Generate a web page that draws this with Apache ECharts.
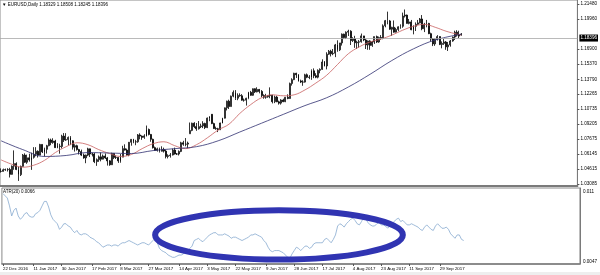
<!DOCTYPE html>
<html><head><meta charset="utf-8">
<script src="https://cdn.jsdelivr.net/npm/echarts@6/dist/echarts.min.js"></script>
<style>html,body{margin:0;padding:0;background:#fff}#c{width:600px;height:275px}</style>
</head><body><div id="c"></div>
<script>
const symbolName = 'EURUSD,Daily';
const indicatorName = 'ATR(20)';
const startDate = '2016-12-22';
const slotCount = 266;
const xLabels = ['22 Dec 2016','11 Jan 2017','30 Jan 2017','17 Feb 2017','8 Mar 2017','27 Mar 2017','14 Apr 2017','3 May 2017','22 May 2017','9 Jun 2017','28 Jun 2017','17 Jul 2017','4 Aug 2017','23 Aug 2017','11 Sep 2017','29 Sep 2017'];
const priceTicks = [1.03085,1.04615,1.06145,1.07675,1.09205,1.10735,1.12265,1.13790,1.15370,1.16900,1.19960,1.21480];
const atrTicks = [0.0047,0.011];
const atrTickLabels = ['0.0047','0.011'];

const opens = [1.0437,1.0437,1.0454,1.0456,1.0456,1.0407,1.0491,1.0517,1.0457,1.0404,
1.0488,1.0604,1.0531,1.0576,1.0555,1.0581,1.0612,1.0643,1.0603,1.0713,
1.0637,1.0663,1.0700,1.0758,1.0732,1.0748,1.0680,1.0695,1.0692,1.0798,
1.0758,1.0762,1.0785,1.0750,1.0685,1.0700,1.0660,1.0640,1.0604,1.0575,
1.0604,1.0668,1.0615,1.0615,1.0537,1.0557,1.0586,1.0562,1.0595,1.0575,
1.0545,1.0505,1.0620,1.0580,1.0580,1.0545,1.0583,1.0670,1.0655,1.0605,
1.0735,1.0765,1.0740,1.0740,1.0810,1.0798,1.0785,1.0800,1.0866,1.0815,
1.0765,1.0680,1.0652,1.0668,1.0643,1.0662,1.0645,1.0590,1.0598,1.0605,
1.0655,1.0615,1.0615,1.0641,1.0730,1.0715,1.0716,1.0822,1.0856,1.0930,
1.0895,1.0873,1.0895,1.0902,1.0927,1.0885,1.0982,1.1021,1.0926,1.0875,
1.0873,1.0863,1.0932,1.0981,1.1087,1.1155,1.1100,1.1206,1.1245,1.1185,
1.1214,1.1210,1.1165,1.1165,1.1185,1.1245,1.1215,1.1282,1.1250,1.1275,
1.1255,1.1212,1.1196,1.1200,1.1212,1.1216,1.1150,1.1197,1.1148,1.1135,
1.1167,1.1150,1.1195,1.1182,1.1335,1.1375,1.1440,1.1425,1.1362,1.1350,
1.1350,1.1425,1.1400,1.1398,1.1465,1.1415,1.1400,1.1470,1.1480,1.1555,
1.1515,1.1635,1.1665,1.1640,1.1645,1.1730,1.1680,1.1750,1.1840,1.1805,
1.1860,1.1870,1.1775,1.1792,1.1752,1.1758,1.1762,1.1822,1.1780,1.1730,
1.1770,1.1725,1.1760,1.1815,1.1760,1.1805,1.1798,1.1925,1.1978,1.1975,
1.1890,1.1910,1.1860,1.1888,1.1915,1.1920,1.2025,1.2035,1.1950,1.1965,
1.1885,1.1920,1.1940,1.1955,1.1995,1.1895,1.1940,1.1950,1.1845,1.1790,
1.1740,1.1785,1.1815,1.1735,1.1745,1.1760,1.1710,1.1730,1.1770,1.1810,
1.1860,1.1830,1.18329];
const highs = [1.0468,1.0466,1.0466,1.0470,1.0474,1.0498,1.0652,1.0530,1.0485,1.0497,
1.0615,1.0622,1.0609,1.0618,1.0629,1.0685,1.0685,1.0652,1.0719,1.0714,
1.0680,1.0709,1.0775,1.0772,1.0776,1.0760,1.0726,1.0720,1.0812,1.0829,
1.0828,1.0794,1.0798,1.0755,1.0715,1.0710,1.0668,1.0660,1.0620,1.0609,
1.0679,1.0670,1.0625,1.0625,1.0570,1.0600,1.0630,1.0610,1.0620,1.0585,
1.0552,1.0628,1.0620,1.0600,1.0583,1.0615,1.0699,1.0714,1.0670,1.0738,
1.0768,1.0770,1.0760,1.0819,1.0827,1.0805,1.0817,1.0906,1.0875,1.0820,
1.0772,1.0691,1.0680,1.0680,1.0694,1.0680,1.0660,1.0612,1.0625,1.0670,
1.0680,1.0625,1.0652,1.0740,1.0750,1.0778,1.0742,1.0937,1.0935,1.0940,
1.0932,1.0952,1.0925,1.0950,1.0935,1.0988,1.1000,1.1023,1.0935,1.0895,
1.0883,1.0935,1.0985,1.1090,1.1160,1.1170,1.1212,1.1265,1.1268,1.1235,
1.1235,1.1227,1.1182,1.1190,1.1250,1.1260,1.1285,1.1286,1.1297,1.1280,
1.1268,1.1225,1.1230,1.1215,1.1296,1.1220,1.1212,1.1210,1.1160,1.1175,
1.1180,1.1198,1.1225,1.1345,1.1389,1.1445,1.1445,1.1432,1.1375,1.1369,
1.1435,1.1438,1.1421,1.1480,1.1490,1.1441,1.1480,1.1490,1.1583,1.1565,
1.1655,1.1678,1.1680,1.1688,1.1740,1.1777,1.1750,1.1847,1.1845,1.1868,
1.1885,1.1880,1.1809,1.1823,1.1773,1.1780,1.1846,1.1823,1.1790,1.1775,
1.1778,1.1770,1.1815,1.1825,1.1815,1.1830,1.1940,1.1985,1.2070,1.1985,
1.1915,1.1980,1.1905,1.1920,1.1940,1.2060,1.2092,1.2040,1.1995,1.1985,
1.1930,1.1960,1.1985,1.2005,1.2035,1.1955,1.1985,1.1955,1.1855,1.1800,
1.1795,1.1830,1.1818,1.1766,1.1790,1.1770,1.1760,1.1780,1.1815,1.1875,
1.1880,1.1875,1.18508];
const lows = [1.0425,1.0436,1.0443,1.0436,1.0375,1.0404,1.0454,1.0450,1.0340,1.0390,
1.0485,1.0524,1.0515,1.0537,1.0453,1.0568,1.0592,1.0579,1.0603,1.0625,
1.0589,1.0620,1.0694,1.0705,1.0720,1.0678,1.0674,1.0618,1.0672,1.0738,
1.0750,1.0705,1.0706,1.0660,1.0640,1.0650,1.0610,1.0594,1.0567,1.0521,
1.0593,1.0584,1.0590,1.0522,1.0494,1.0535,1.0540,1.0560,1.0565,1.0497,
1.0495,1.0503,1.0563,1.0564,1.0524,1.0526,1.0582,1.0650,1.0600,1.0592,
1.0700,1.0725,1.0705,1.0730,1.0765,1.0760,1.0770,1.0794,1.0805,1.0740,
1.0671,1.0648,1.0640,1.0630,1.0640,1.0630,1.0570,1.0570,1.0578,1.0600,
1.0610,1.0605,1.0600,1.0634,1.0699,1.0694,1.0675,1.0822,1.0848,1.0880,
1.0852,1.0865,1.0880,1.0880,1.0870,1.0880,1.0950,1.0920,1.0872,1.0863,
1.0839,1.0860,1.0928,1.0978,1.1060,1.1075,1.1100,1.1195,1.1167,1.1165,
1.1200,1.1160,1.1150,1.1110,1.1175,1.1210,1.1210,1.1238,1.1245,1.1235,
1.1195,1.1180,1.1180,1.1190,1.1185,1.1132,1.1135,1.1145,1.1120,1.1120,
1.1145,1.1145,1.1175,1.1180,1.1314,1.1370,1.1392,1.1355,1.1340,1.1312,
1.1345,1.1390,1.1380,1.1373,1.1390,1.1390,1.1388,1.1440,1.1475,1.1510,
1.1480,1.1628,1.1612,1.1625,1.1605,1.1660,1.1667,1.1723,1.1790,1.1790,
1.1821,1.1729,1.1760,1.1700,1.1688,1.1702,1.1753,1.1768,1.1688,1.1680,
1.1680,1.1710,1.1740,1.1750,1.1752,1.1782,1.1788,1.1910,1.1940,1.1885,
1.1823,1.1855,1.1857,1.1870,1.1895,1.1905,1.2010,1.1948,1.1940,1.1880,
1.1838,1.1872,1.1935,1.1950,1.1880,1.1861,1.1910,1.1840,1.1765,1.1718,
1.1720,1.1775,1.1728,1.1695,1.1730,1.1680,1.1668,1.1712,1.1763,1.1780,
1.1815,1.1800,1.18245];
const closes = [1.0437,1.0454,1.0456,1.0456,1.0407,1.0491,1.0517,1.0457,1.0404,1.0488,
1.0604,1.0531,1.0576,1.0555,1.0581,1.0612,1.0643,1.0603,1.0713,1.0637,
1.0663,1.0700,1.0758,1.0732,1.0748,1.0680,1.0695,1.0692,1.0798,1.0758,
1.0762,1.0785,1.0750,1.0685,1.0700,1.0660,1.0640,1.0604,1.0575,1.0604,
1.0668,1.0615,1.0615,1.0537,1.0557,1.0586,1.0562,1.0595,1.0575,1.0545,
1.0505,1.0620,1.0580,1.0580,1.0545,1.0583,1.0670,1.0655,1.0605,1.0735,
1.0765,1.0740,1.0740,1.0810,1.0798,1.0785,1.0800,1.0866,1.0815,1.0765,
1.0680,1.0652,1.0668,1.0643,1.0662,1.0645,1.0590,1.0598,1.0605,1.0655,
1.0615,1.0615,1.0641,1.0730,1.0715,1.0716,1.0727,1.0856,1.0930,1.0895,
1.0873,1.0895,1.0902,1.0927,1.0885,1.0982,1.0998,1.0926,1.0875,1.0873,
1.0863,1.0932,1.0981,1.1087,1.1155,1.1100,1.1206,1.1245,1.1185,1.1214,
1.1210,1.1165,1.1165,1.1185,1.1245,1.1215,1.1282,1.1250,1.1275,1.1255,
1.1212,1.1196,1.1200,1.1212,1.1216,1.1150,1.1197,1.1148,1.1135,1.1167,
1.1150,1.1195,1.1182,1.1335,1.1375,1.1440,1.1425,1.1362,1.1350,1.1350,
1.1425,1.1400,1.1398,1.1465,1.1415,1.1400,1.1470,1.1480,1.1555,1.1515,
1.1635,1.1665,1.1640,1.1645,1.1730,1.1680,1.1750,1.1840,1.1805,1.1860,
1.1870,1.1775,1.1792,1.1752,1.1758,1.1762,1.1822,1.1780,1.1730,1.1770,
1.1725,1.1760,1.1815,1.1760,1.1805,1.1798,1.1925,1.1978,1.1975,1.1890,
1.1910,1.1860,1.1888,1.1915,1.1920,1.2025,1.2035,1.1950,1.1965,1.1885,
1.1920,1.1940,1.1955,1.1995,1.1895,1.1940,1.1950,1.1845,1.1790,1.1740,
1.1785,1.1815,1.1735,1.1745,1.1760,1.1710,1.1730,1.1770,1.1810,1.1860,
1.1830,1.1820,1.18396];

const maFast = [[0,1.0555],[5,1.0510],[10,1.0480],[15,1.0500],[20,1.0550],[25,1.0630],[30,1.0690],[35,1.0730],[40,1.0710],[45,1.0660],[50,1.0620],[55,1.0590],[60,1.0610],[65,1.0670],[70,1.0720],[75,1.0740],[80,1.0700],[85,1.0670],[90,1.0710],[95,1.0780],[100,1.0860],[105,1.0920],[110,1.1030],[115,1.1120],[120,1.1190],[125,1.1220],[130,1.1210],[135,1.1220],[140,1.1270],[145,1.1340],[150,1.1420],[155,1.1530],[160,1.1640],[165,1.1710],[170,1.1760],[175,1.1790],[180,1.1830],[185,1.1880],[190,1.1920],[195,1.1940],[200,1.1910],[205,1.1870],[210,1.1840],[212,1.1830]];
const maSlow = [[0,1.0750],[10,1.0660],[20,1.0590],[30,1.0600],[40,1.0630],[50,1.0625],[60,1.0620],[70,1.0650],[80,1.0670],[90,1.0690],[100,1.0750],[110,1.0840],[120,1.0930],[130,1.1020],[140,1.1110],[150,1.1190],[160,1.1300],[170,1.1430],[180,1.1570],[190,1.1690],[200,1.1780],[212,1.1840]];

const atr = [0.0108,0.0106,0.0104,0.0097,0.0088,0.0093,0.0095,0.0088,0.0085,0.0087,
0.0090,0.0091,0.0088,0.0087,0.0087,0.0090,0.0091,0.0093,0.0097,0.0101,
0.0101,0.0096,0.0089,0.0085,0.0083,0.0081,0.0076,0.0078,0.0081,0.0081,
0.0079,0.0078,0.0075,0.0073,0.0075,0.0072,0.0071,0.0072,0.0072,0.0071,
0.0069,0.0068,0.0067,0.0065,0.0064,0.0062,0.0060,0.0061,0.0062,0.0062,
0.0061,0.0062,0.0062,0.0061,0.0063,0.0064,0.0064,0.0065,0.0066,0.0065,
0.0064,0.0063,0.0062,0.0063,0.0064,0.0064,0.0063,0.0062,0.0064,0.0066,
0.0068,0.0064,0.0059,0.0057,0.0056,0.0055,0.0053,0.0052,0.0051,0.0051,
0.0052,0.0053,0.0053,0.0054,0.0056,0.0057,0.0059,0.0061,0.0066,0.0067,
0.0068,0.0066,0.0065,0.0067,0.0069,0.0071,0.0072,0.0073,0.0073,0.0071,
0.0071,0.0071,0.0072,0.0071,0.0070,0.0068,0.0069,0.0069,0.0068,0.0067,
0.0066,0.0067,0.0068,0.0069,0.0071,0.0071,0.0072,0.0071,0.0070,0.0069,
0.0066,0.0064,0.0060,0.0057,0.0056,0.0057,0.0057,0.0057,0.0056,0.0055,
0.0053,0.0051,0.0050,0.0054,0.0057,0.0060,0.0059,0.0057,0.0059,0.0061,
0.0061,0.0059,0.0060,0.0063,0.0064,0.0064,0.0064,0.0064,0.0067,0.0068,
0.0066,0.0064,0.0067,0.0071,0.0079,0.0081,0.0080,0.0078,0.0081,0.0083,
0.0085,0.0086,0.0084,0.0081,0.0080,0.0083,0.0087,0.0085,0.0082,0.0080,
0.0079,0.0079,0.0081,0.0082,0.0080,0.0080,0.0079,0.0077,0.0079,0.0081,
0.0083,0.0085,0.0086,0.0083,0.0084,0.0082,0.0080,0.0080,0.0081,0.0080,
0.0079,0.0078,0.0076,0.0075,0.0078,0.0080,0.0078,0.0076,0.0075,0.0079,
0.0081,0.0079,0.0077,0.0077,0.0078,0.0076,0.0072,0.0070,0.0068,0.0071,
0.0071,0.0067,0.0066];

// annotation ellipse, in data units of the ATR panel
const ellipseAnno = { centerBar: 127, centerValue: 0.0071, halfBars: 56.5, halfValue: 0.0022 };

// weekday categories
const MONTHS = ['Jan','Feb','Mar','Apr','May','Jun','Jul','Aug','Sep','Oct','Nov','Dec'];
const categories = [];
{
  let d = new Date(startDate + 'T00:00:00Z');
  while (categories.length < slotCount) {
    const wd = d.getUTCDay();
    if (wd !== 0 && wd !== 6) categories.push(d.getUTCDate() + ' ' + MONTHS[d.getUTCMonth()] + ' ' + d.getUTCFullYear());
    d = new Date(d.getTime() + 86400000);
  }
}
const ohlc = opens.map((o, i) => [o, closes[i], lows[i], highs[i]]);
const last = closes.length - 1;
const FONT = 'Liberation Sans';
const showLabel = (i, v) => xLabels.indexOf(v) >= 0;

const chart = echarts.init(document.getElementById('c'), null, { renderer: 'canvas' });
chart.setOption({
  animation: false,
  backgroundColor: '#ffffff',
  textStyle: { fontFamily: FONT },
  title: [
    { text: '\u25BC ' + symbolName + ' ' + [opens[last], highs[last], lows[last], closes[last]].map(v => v.toFixed(5)).join(' '),
      left: 2, top: 2, padding: 0, textStyle: { fontSize: 4.5, fontWeight: 'normal', color: '#000', fontFamily: FONT } },
    { text: indicatorName + ' ' + atr[atr.length - 1].toFixed(4),
      left: 3, top: 189, padding: 0, textStyle: { fontSize: 4.5, fontWeight: 'normal', color: '#000', fontFamily: FONT } }
  ],
  grid: [
    { left: 0, top: 0, width: 580, height: 186, show: true, borderColor: '#8a8a8a', borderWidth: 1 },
    { left: 0, top: 188, width: 580, height: 76, show: true, borderColor: '#8a8a8a', borderWidth: 1 }
  ],
  xAxis: [
    { type: 'category', gridIndex: 0, data: categories, boundaryGap: true,
      axisLine: { show: true, lineStyle: { color: '#7a7a7a', width: 2 } }, axisTick: { show: false }, axisLabel: { show: false }, splitLine: { show: false } },
    { type: 'category', gridIndex: 1, data: categories, boundaryGap: true,
      axisLine: { show: true, lineStyle: { color: '#7a7a7a', width: 1.5 } },
      axisTick: { show: true, interval: showLabel, alignWithLabel: true, length: 2, lineStyle: { color: '#555' } },
      axisLabel: { show: true, interval: showLabel, align: 'left', margin: 3, fontSize: 4.4, color: '#000', fontFamily: FONT },
      splitLine: { show: false } }
  ],
  yAxis: [
    { type: 'value', gridIndex: 0, position: 'right', min: 1.02881, max: 1.21889, scale: true,
      axisLine: { show: true, lineStyle: { color: '#7a7a7a', width: 1 } },
      axisTick: { show: true, customValues: priceTicks, length: 2, lineStyle: { color: '#555' } },
      axisLabel: { show: true, customValues: priceTicks, formatter: v => v.toFixed(5), fontSize: 4.6, margin: 3, color: '#000', fontFamily: FONT },
      splitLine: { show: false } },
    { type: 'value', gridIndex: 1, position: 'right', min: 0.0045, max: 0.0113,
      axisLine: { show: true, lineStyle: { color: '#7a7a7a', width: 1 } },
      axisTick: { show: false },
      axisLabel: { show: true, customValues: atrTicks, formatter: v => atrTickLabels[atrTicks.indexOf(v)] || '', fontSize: 4.6, margin: 3, color: '#000', fontFamily: FONT },
      splitLine: { show: false } }
  ],
  series: [
    { type: 'candlestick', xAxisIndex: 0, yAxisIndex: 0, data: ohlc, barWidth: 1.4,
      itemStyle: { color: '#ffffff', color0: '#000000', borderColor: '#000000', borderColor0: '#000000', borderWidth: 0.8 },
      markLine: { silent: true, symbol: ['none', 'none'], animation: false,
        lineStyle: { color: '#a8a8a8', width: 0.8, type: 'solid' },
        label: { show: true, position: 'end', distance: 2, formatter: () => closes[last].toFixed(5),
          backgroundColor: '#000', color: '#fff', fontSize: 4.6, padding: [1, 1, 1, 1], fontFamily: FONT },
        data: [{ yAxis: closes[last] }] } },
    { type: 'line', xAxisIndex: 0, yAxisIndex: 0, data: maFast, showSymbol: false, smooth: 0.4, connectNulls: true,
      lineStyle: { color: '#c86060', width: 0.8 }, z: 3 },
    { type: 'line', xAxisIndex: 0, yAxisIndex: 0, data: maSlow, showSymbol: false, smooth: 0.4, connectNulls: true,
      lineStyle: { color: '#2e2e70', width: 0.8 }, z: 3 },
    { type: 'line', xAxisIndex: 1, yAxisIndex: 1, data: atr, showSymbol: false,
      lineStyle: { color: '#86a9cf', width: 0.8 } }
  ]
});

const c = chart.convertToPixel({ gridIndex: 1 }, [ellipseAnno.centerBar, ellipseAnno.centerValue]);
const e = chart.convertToPixel({ gridIndex: 1 }, [ellipseAnno.centerBar + ellipseAnno.halfBars, ellipseAnno.centerValue + ellipseAnno.halfValue]);
const rx = Math.abs(e[0] - c[0]), ry = Math.abs(c[1] - e[1]);
chart.setOption({
  graphic: [
    { type: 'rect', silent: true, z: 0, shape: { x: 0, y: 272, width: 600, height: 3 }, style: { fill: '#eeeeee' } },
    { type: 'ellipse', silent: true, z: 100, shape: { cx: c[0], cy: c[1], rx: rx, ry: ry },
      style: { fill: 'none', stroke: '#3034b2', lineWidth: 6 } }
  ]
});
</script></body></html>
